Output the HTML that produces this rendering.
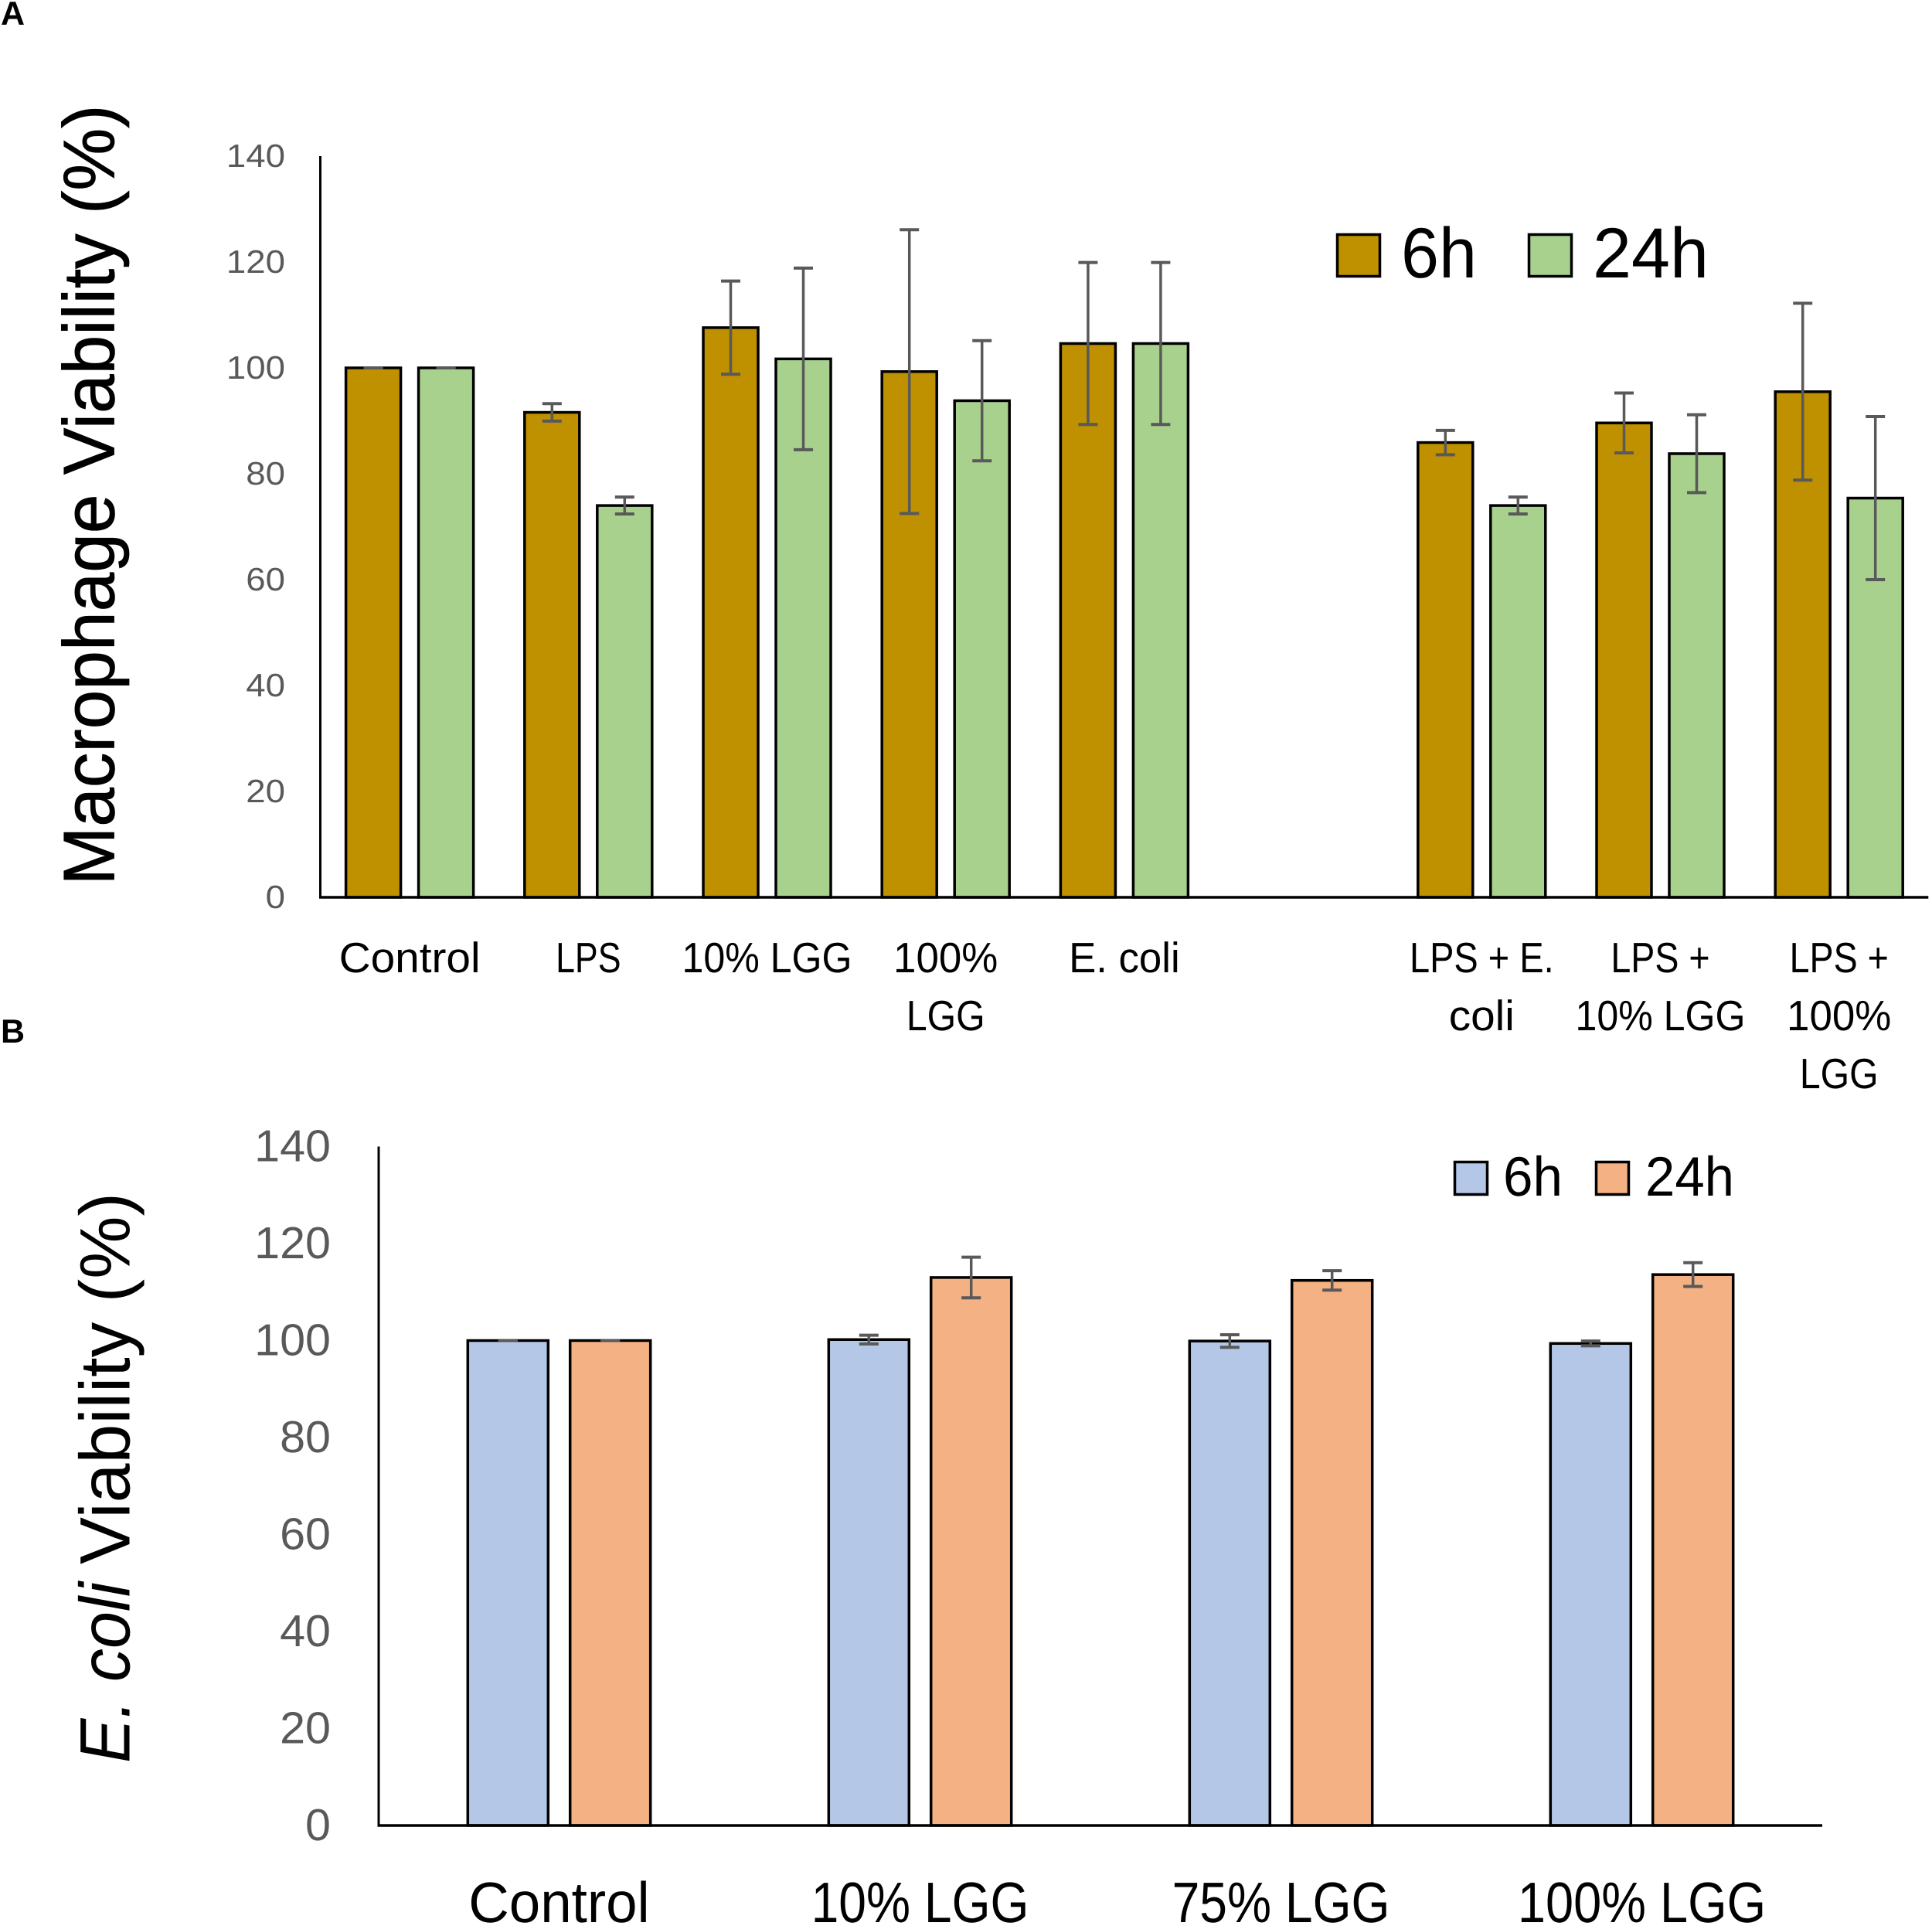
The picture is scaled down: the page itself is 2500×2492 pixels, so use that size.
<!DOCTYPE html>
<html lang="en">
<head>
<meta charset="utf-8">
<title>Macrophage and E. coli viability</title>
<style>
  html, body { margin: 0; padding: 0; background: #fff; }
  svg { display: block; font-family: "Liberation Sans", sans-serif; text-rendering: geometricPrecision; }
</style>
</head>
<body>
<svg id="figure" xmlns="http://www.w3.org/2000/svg" width="2500" height="2492" viewBox="0 0 2500 2492">
  <rect x="0" y="0" width="2500" height="2492" fill="#ffffff"/>
  <text x="1" y="32" font-size="43" font-weight="700" fill="#000">A</text>
  <text x="1" y="1349" font-size="43" font-weight="700" fill="#000">B</text>
  <text transform="translate(147.5 1145.5) rotate(-90)" font-size="94" fill="#000" stroke="#000" stroke-width="0.8" textLength="1010" lengthAdjust="spacingAndGlyphs">Macrophage Viability (%)</text>
  <g transform="translate(167.5 2281) rotate(-90)" font-size="92" fill="#000">
    <text x="0" y="0" font-style="italic" textLength="234" lengthAdjust="spacingAndGlyphs">E. coli</text>
    <text x="257" y="0" textLength="481" lengthAdjust="spacingAndGlyphs">Viability (%)</text>
  </g>
  <g id="chart-a"></g>
  <g id="chart-b"></g>
</svg>
<script>
// ---- Panel A data ----
const categoriesA = [["Control"], ["LPS"], ["10% LGG"], ["100%", "LGG"], ["E. coli"], [], ["LPS + E.", "coli"], ["LPS +", "10% LGG"], ["LPS +", "100%", "LGG"]];
const valuesA6h = [100, 91.6, 107.6, 99.3, 104.6, null, 85.9, 89.6, 95.5];
const valuesA24h = [100, 74, 101.7, 93.8, 104.6, null, 74, 83.8, 75.4];
const errorsA6h = [0, 1.65, 8.8, 26.8, 15.3, null, 2.3, 5.65, 16.7];
const errorsA24h = [0, 1.6, 17.15, 11.35, 15.3, null, 1.6, 7.35, 15.4];
const ticksA = [0, 20, 40, 60, 80, 100, 120, 140];

// ---- Panel B data ----
const categoriesB = [["Control"], ["10% LGG"], ["75% LGG"], ["100% LGG"]];
const valuesB6h = [100, 100.2, 99.9, 99.4];
const valuesB24h = [100, 113, 112.4, 113.6];
const errorsB6h = [0, 0.9, 1.3, 0.5];
const errorsB24h = [0, 4.2, 2, 2.45];
const ticksB = [0, 20, 40, 60, 80, 100, 120, 140];

const seriesNames = ["6h", "24h"];

// Approximate advance widths (em) of the original typeface, used to fit text widths
const advance = { "0": .507, "1": .507, "2": .507, "3": .507, "4": .507, "5": .507, "6": .507, "7": .507, "8": .507, "9": .507, " ": .226, "%": .715, "+": .498, ".": .252, C: .533, E: .488, G: .631, L: .42, P: .517, S: .459, c: .423, h: .525, i: .229, l: .229, n: .525, o: .527, r: .349, t: .335 };
function fitWidth(str, emSize) {
  let total = 0;
  for (const ch of str) total += (advance[ch] || .5);
  return total * emSize;
}

const NS = "http://www.w3.org/2000/svg";
function make(parent, tag, attrs, name) {
  const el = document.createElementNS(NS, tag);
  for (const k in attrs) el.setAttribute(k, attrs[k]);
  
  
  parent.appendChild(el);
  return el;
}
function slug(str) { return str.toLowerCase().replace(/[^a-z0-9]+/g, '-').replace(/^-|-$/g, ''); }

function drawChart(cfg) {
  const root = document.getElementById(cfg.id);
  const yScale = v => cfg.baseY - v * cfg.unit;
  const xBand = i => cfg.axisX + cfg.band * (i + 0.5);
  const topValue = cfg.ticks[cfg.ticks.length - 1];

  // tick labels
  cfg.ticks.forEach(t => {
    const txt = make(root, 'text', {
      x: cfg.tickRight, y: yScale(t) + cfg.tickDy, 'font-size': cfg.tickSize, fill: '#595959', 'text-anchor': 'end',
      textLength: fitWidth(String(t), cfg.tickEm), lengthAdjust: 'spacingAndGlyphs'
    }, 'y-tick-label-' + t);
    txt.textContent = String(t);
  });

  // bars
  cfg.series.forEach((s, si) => {
    s.values.forEach((v, i) => {
      if (v === null) return;
      const cx = xBand(i) + (si === 0 ? -cfg.offset : cfg.offset);
      make(root, 'rect', {
        x: cx - cfg.barW / 2, y: yScale(v), width: cfg.barW, height: cfg.baseY - yScale(v),
        fill: s.color, stroke: '#000', 'stroke-width': 3.5
      }, 'bar-' + slug(cfg.categories[i].join(' ')) + '-' + seriesNames[si]);
    });
  });

  // axes
  make(root, 'line', { x1: cfg.axisX, x2: cfg.axisX, y1: yScale(topValue), y2: cfg.baseY, stroke: '#000', 'stroke-width': 3 }, 'y-axis-line');
  make(root, 'line', { x1: cfg.axisX - 1.5, x2: cfg.axisX + cfg.band * cfg.categories.length, y1: cfg.baseY, y2: cfg.baseY, stroke: '#000', 'stroke-width': 3.5 }, 'x-axis-line');

  // error bars
  cfg.series.forEach((s, si) => {
    s.errors.forEach((e, i) => {
      if (e === null) return;
      const v = s.values[i];
      const cx = xBand(i) + (si === 0 ? -cfg.offset : cfg.offset);
      const hi = yScale(v + e), lo = yScale(v - e);
      const base = 'error-' + slug(cfg.categories[i].join(' ')) + '-' + seriesNames[si];
      make(root, 'line', { x1: cx, x2: cx, y1: hi, y2: lo, stroke: '#595959', 'stroke-width': 3.5 }, base + '-stem');
      make(root, 'line', { x1: cx - 12.5, x2: cx + 12.5, y1: hi, y2: hi, stroke: '#595959', 'stroke-width': 4 }, base + '-cap-top');
      make(root, 'line', { x1: cx - 12.5, x2: cx + 12.5, y1: lo, y2: lo, stroke: '#595959', 'stroke-width': 4 }, base + '-cap-bottom');
    });
  });

  // category labels
  cfg.categories.forEach((lines, i) => {
    lines.forEach((line, li) => {
      const txt = make(root, 'text', {
        x: xBand(i), y: cfg.catBaseline + li * cfg.catLeading, 'font-size': cfg.catSize, fill: '#000', 'text-anchor': 'middle',
        textLength: fitWidth(line, cfg.catEm), lengthAdjust: 'spacingAndGlyphs'
      }, 'x-category-label-' + slug(lines.join(' ')) + '-line-' + (li + 1));
      txt.textContent = line;
    });
  });

  // legend
  cfg.legend.forEach((entry, k) => {
    make(root, 'rect', {
      x: entry.sx + 1.5, y: cfg.legendTop + 1.5, width: entry.sw - 3, height: cfg.legendH - 3,
      fill: cfg.series[k].color, stroke: '#000', 'stroke-width': 3.5
    }, 'legend-swatch-' + seriesNames[k]);
    const txt = make(root, 'text', {
      x: entry.tx, y: cfg.legendBaseline, 'font-size': cfg.legendSize, fill: '#000',
      textLength: entry.tw, lengthAdjust: 'spacingAndGlyphs'
    }, 'legend-label-' + seriesNames[k]);
    txt.textContent = seriesNames[k];
  });
}

drawChart({
  id: 'chart-a',
  categories: categoriesA,
  ticks: ticksA,
  series: [
    { values: valuesA6h, errors: errorsA6h, color: '#BF9000' },
    { values: valuesA24h, errors: errorsA24h, color: '#A9D18E' }
  ],
  axisX: 414.5, baseY: 1161, unit: 6.85, band: 231.2, offset: 47, barW: 71,
  tickRight: 369, tickDy: 14, tickSize: 42, tickEm: 50,
  catBaseline: 1258, catLeading: 75, catSize: 55, catEm: 60.5,
  legend: [
    { sx: 1729, sw: 58, tx: 1813, tw: 98 },
    { sx: 1977, sw: 58, tx: 2061, tw: 150 }
  ],
  legendTop: 302, legendH: 57, legendBaseline: 359, legendSize: 92
});

drawChart({
  id: 'chart-b',
  categories: categoriesB,
  ticks: ticksB,
  series: [
    { values: valuesB6h, errors: errorsB6h, color: '#B4C7E7' },
    { values: valuesB24h, errors: errorsB24h, color: '#F4B183' }
  ],
  axisX: 490, baseY: 2362, unit: 6.275, band: 467, offset: 66.2, barW: 104,
  tickRight: 428, tickDy: 19, tickSize: 58, tickEm: 65,
  catBaseline: 2487, catLeading: 90, catSize: 74, catEm: 77.5,
  legend: [
    { sx: 1881, sw: 45, tx: 1945, tw: 77 },
    { sx: 2064, sw: 45, tx: 2129, tw: 115 }
  ],
  legendTop: 1502, legendH: 45, legendBaseline: 1547, legendSize: 72
});
</script>
</body>
</html>
